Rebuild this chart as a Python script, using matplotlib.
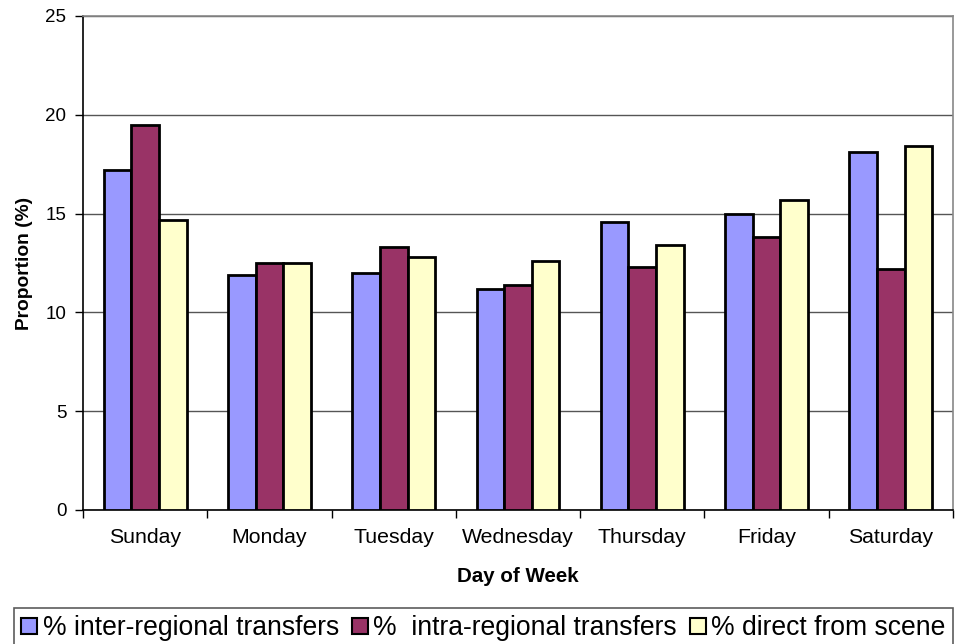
import matplotlib
matplotlib.use("Agg")
import matplotlib.pyplot as plt
import numpy as np
from matplotlib.patches import Patch

days = ["Sunday", "Monday", "Tuesday", "Wednesday", "Thursday", "Friday", "Saturday"]
inter_regional = [17.2, 11.9, 12.0, 11.2, 14.6, 15.0, 18.1]
intra_regional = [19.5, 12.5, 13.3, 11.4, 12.3, 13.8, 12.2]
direct_scene = [14.7, 12.5, 12.8, 12.6, 13.4, 15.7, 18.4]
series_labels = ["% inter-regional transfers", "%  intra-regional transfers", "% direct from scene"]
colors = ["#9999FF", "#993366", "#FFFFCC"]
y_ticks = [0, 5, 10, 15, 20, 25]

plt.rcParams["font.family"] = ["Liberation Sans", "DejaVu Sans"]

fig = plt.figure(figsize=(9.58, 6.44), dpi=100)
ax = fig.add_axes([83 / 958, 1 - 510 / 644, (953 - 83) / 958, (510 - 16) / 644])

x = np.arange(len(days))
bw = 1 / 4.5
for i, (vals, col) in enumerate(zip([inter_regional, intra_regional, direct_scene], colors)):
    ax.bar(x + (i - 1) * bw, vals, width=bw, color=col, edgecolor="black",
           linewidth=2.0, zorder=3)

ax.set_xlim(-0.5, len(days) - 0.5)
ax.set_ylim(0, 25)
ax.set_yticks(y_ticks)
ax.set_yticklabels([str(t) for t in y_ticks], fontsize=13.5)
ax.yaxis.grid(True, color="#555555", linewidth=1.0, zorder=0)

# category labels centred, tick marks on category boundaries
ax.set_xticks(x)
ax.set_xticklabels(days, fontsize=15.3)
ax.tick_params(axis="x", length=0, pad=13)
ax.set_xticks(np.arange(len(days) + 1) - 0.5, minor=True)
ax.tick_params(axis="x", which="minor", length=6, width=1, color="black", direction="out")
ax.tick_params(axis="y", length=6, width=1, color="black", direction="out", pad=6)

for side in ["top", "right"]:
    ax.spines[side].set_color("#888888")
    ax.spines[side].set_linewidth(1.2)
for side in ["left", "bottom"]:
    ax.spines[side].set_color("black")
    ax.spines[side].set_linewidth(1.2)

ax.set_xlabel("Day of Week", fontsize=14.8, fontweight="bold", labelpad=14)
ax.set_ylabel("Proportion (%)", fontsize=13.8, fontweight="bold", labelpad=9)

handles = [Patch(facecolor=c, edgecolor="black", linewidth=1.5) for c in colors]
leg = fig.legend(handles, series_labels, loc="upper left",
                 bbox_to_anchor=(14 / 958, 1 - 608 / 644), ncol=3,
                 fontsize=19.1, frameon=True, fancybox=False,
                 handlelength=0.6, handleheight=0.6, handletextpad=0.2,
                 columnspacing=0.5, borderpad=0.28, borderaxespad=0)
leg.get_frame().set_edgecolor("#333333")
leg.get_frame().set_linewidth(1.2)

fig.savefig("out.png", dpi=100)
